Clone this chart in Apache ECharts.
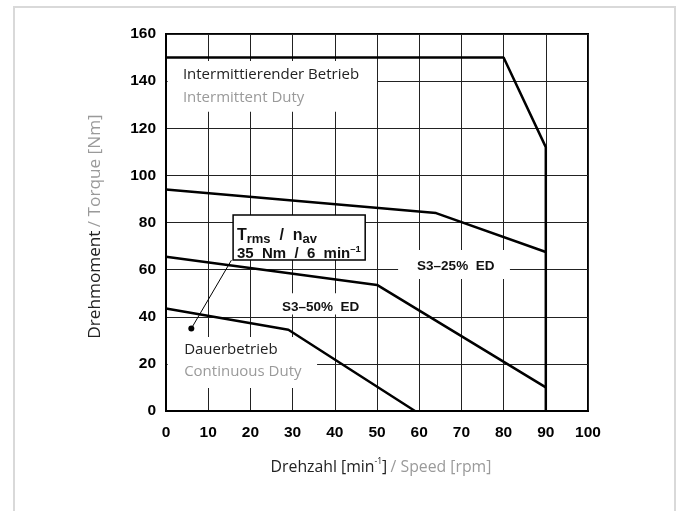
<!DOCTYPE html>
<html>
<head>
<meta charset="utf-8">
<script src="https://cdn.jsdelivr.net/npm/echarts@6/dist/echarts.min.js"></script>
<style>html,body{margin:0;padding:0;background:#fff;}#c{width:681px;height:511px;}</style>
</head>
<body>
<div id="c"></div>
<script>
// ---- data ----
const speedMin = 0, speedMax = 100, speedStep = 10;
const torqueMin = 0, torqueMax = 160, torqueStep = 20;

const intermittentSpeed = [0, 80, 90, 90];
const intermittentTorque = [150, 150, 112, 0];

const s3_25Speed = [0, 64, 90];
const s3_25Torque = [94, 84, 67.5];

const s3_50Speed = [0, 50, 90];
const s3_50Torque = [65.5, 53.5, 10];

const continuousSpeed = [0, 29, 59];
const continuousTorque = [43.5, 34.5, 0];

const rmsPointSpeed = [6, 15.5];
const rmsPointTorque = [35, 64];

const zip = (xs, ys) => xs.map((x, i) => [x, ys[i]]);

const DARK = '#222', GRAY = '#9a9a9a';
const SANS = '"Open Sans", "Noto Sans", sans-serif';
const HELV = '"Liberation Sans", Arial, sans-serif';

const chart = echarts.init(document.getElementById('c'), null, {renderer: 'canvas'});

const lineStyle = {color: '#000', width: 2.5};
function curve(name, xs, ys) {
  return {
    type: 'line', name: name, data: zip(xs, ys), showSymbol: false, symbol: 'none',
    lineStyle: lineStyle, z: 5, silent: true, animation: false
  };
}

chart.setOption({
  animation: false,
  backgroundColor: '#fff',
  grid: {left: 166, right: 93, top: 34, bottom: 100, show: true, borderColor: '#000', borderWidth: 2, backgroundColor: 'transparent'},
  xAxis: {
    type: 'value', min: speedMin, max: speedMax, interval: speedStep,
    axisLine: {show: true, lineStyle: {color: '#000', width: 2}},
    axisTick: {show: false},
    splitLine: {show: true, lineStyle: {color: '#222', width: 1}},
    axisLabel: {color: '#000', fontFamily: HELV, fontWeight: 'bold', fontSize: 15.5, margin: 14},
    name: '{a|Drehzahl [min}{s|-1}{a|]} {b|/ Speed [rpm]}',
    nameLocation: 'middle', nameGap: 46,
    nameTextStyle: {
      padding: [0, 0, 0, 8],
      rich: {
        a: {color: DARK, fontFamily: SANS, fontSize: 15.8, lineHeight: 20},
        s: {color: DARK, fontFamily: SANS, fontSize: 8.5, verticalAlign: 'top', lineHeight: 20},
        b: {color: GRAY, fontFamily: SANS, fontSize: 15.8, lineHeight: 20}
      }
    }
  },
  yAxis: {
    type: 'value', min: torqueMin, max: torqueMax, interval: torqueStep,
    axisLine: {show: true, lineStyle: {color: '#000', width: 2}},
    axisTick: {show: false},
    splitLine: {show: true, lineStyle: {color: '#222', width: 1}},
    axisLabel: {color: '#000', fontFamily: HELV, fontWeight: 'bold', fontSize: 15.5, margin: 10},
    name: '{a|Drehmoment} {b|/ Torque [Nm]}',
    nameLocation: 'middle', nameGap: 62,
    nameTextStyle: {
      padding: [0, 8, 0, 0],
      rich: {
        a: {color: DARK, fontFamily: SANS, fontSize: 17.2},
        b: {color: GRAY, fontFamily: SANS, fontSize: 17.2}
      }
    }
  },
  series: [
    curve('Intermittent', intermittentSpeed, intermittentTorque),
    curve('S3-25%', s3_25Speed, s3_25Torque),
    curve('S3-50%', s3_50Speed, s3_50Torque),
    curve('Continuous', continuousSpeed, continuousTorque),
    {
      type: 'line', data: zip(rmsPointSpeed, rmsPointTorque), silent: true,
      symbol: (v, p) => p.dataIndex === 0 ? 'circle' : 'none', symbolSize: 6, showSymbol: true,
      itemStyle: {color: '#000'}, lineStyle: {color: '#000', width: 1}, z: 6
    }
  ]
});

// ---- annotations (anchors in data coordinates) ----
const P = (x, y) => chart.convertToPixel({gridIndex: 0}, [x, y]);

function whiteBox(x0, y0, x1, y1, stroke) {
  const a = P(x0, y1), b = P(x1, y0);
  return {
    type: 'rect', z: 3, silent: true,
    shape: {x: a[0], y: a[1], width: b[0] - a[0], height: b[1] - a[1]},
    style: {fill: '#fff', stroke: stroke || null, lineWidth: stroke ? 1.5 : 0}
  };
}
function txt(x, y, text, style) {
  const p = P(x, y);
  return {type: 'text', z: 10, silent: true, x: p[0], y: p[1],
    style: Object.assign({text: text, textAlign: 'left', textVerticalAlign: 'middle'}, style)};
}
const sansDark = {fill: DARK, font: '15px ' + SANS};
const sansGray = {fill: GRAY, font: '15px ' + SANS};
const helvB = {fill: '#111', font: 'bold 13.5px ' + HELV};

const frame = {
  type: 'rect', z: 0, silent: true,
  shape: {x: 14, y: 7, width: 661, height: 520},
  style: {fill: null, stroke: '#d9d9d9', lineWidth: 2}
};

chart.setOption({
  graphic: [
    frame,
    whiteBox(0.4, 127, 50, 148.5),
    whiteBox(0.4, 9.8, 35.8, 31.4),
    whiteBox(27, 41, 47, 50),
    whiteBox(55, 56, 81.5, 68.3),
    whiteBox(15.9, 64.1, 47.2, 83.2, '#000'),
    txt(4.0, 142.6, 'Intermittierender Betrieb', sansDark),
    txt(4.0, 132.9, 'Intermittent Duty', sansGray),
    txt(4.3, 25.9, 'Dauerbetrieb', sansDark),
    txt(4.3, 16.7, 'Continuous Duty', sansGray),
    txt(27.5, 44.1, 'S3\u201350%  ED', helvB),
    txt(59.5, 61.5, 'S3\u201325%  ED', helvB),
    txt(16.8, 74.4, '{m|T}{s|rms}{m|  /  n}{s|av}', {
      fill: '#111',
      rich: {
        m: {fontFamily: HELV, fontWeight: 'bold', fontSize: 16, lineHeight: 21, fill: '#111'},
        s: {fontFamily: HELV, fontWeight: 'bold', fontSize: 13, lineHeight: 21, verticalAlign: 'bottom', fill: '#111'}
      }
    }),
    txt(16.8, 66.5, '{m|35  Nm  /  6  min}{s|\u20131}', {
      fill: '#111',
      rich: {
        m: {fontFamily: HELV, fontWeight: 'bold', fontSize: 15, lineHeight: 20, fill: '#111'},
        s: {fontFamily: HELV, fontWeight: 'bold', fontSize: 9.5, lineHeight: 20, verticalAlign: 'top', fill: '#111'}
      }
    })
  ]
});
</script>
</body>
</html>
